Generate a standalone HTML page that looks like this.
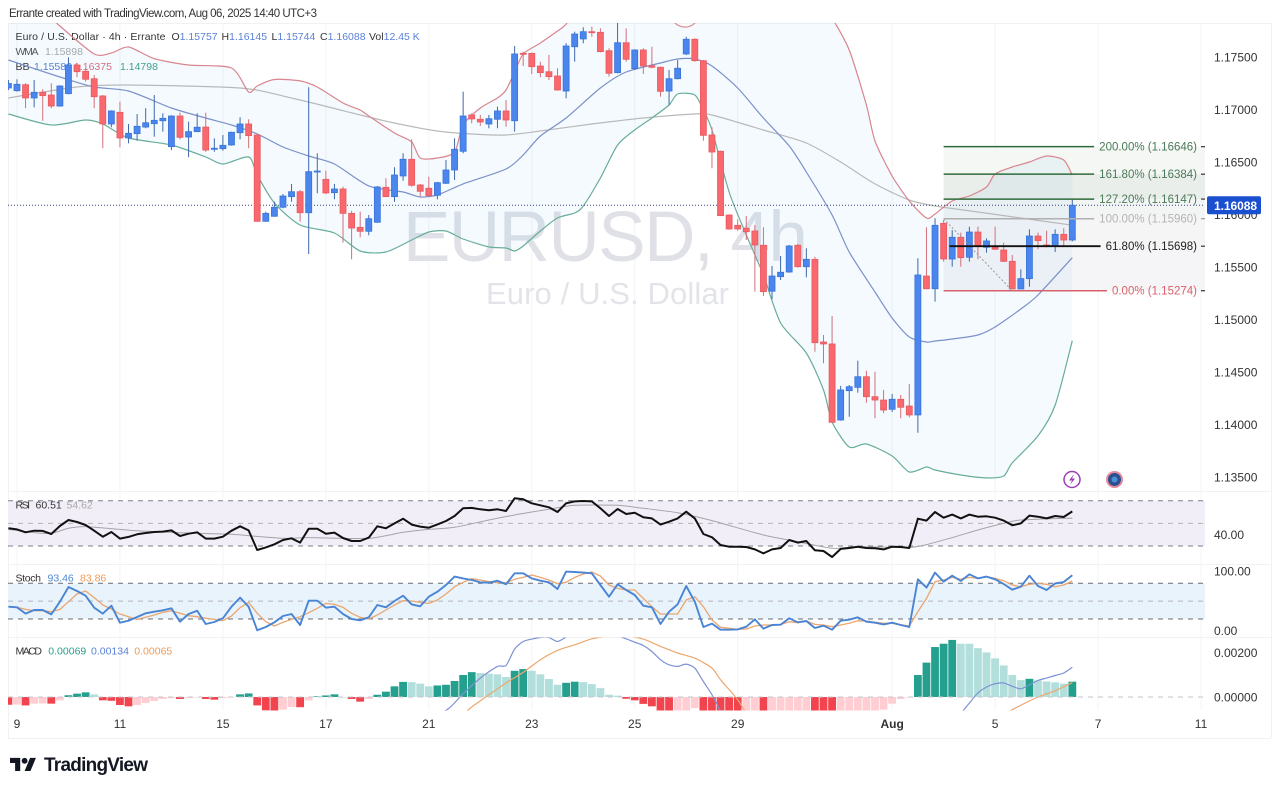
<!DOCTYPE html>
<html lang="en">
<head>
<meta charset="utf-8">
<title>EURUSD 4h chart</title>
<style>
html,body{margin:0;padding:0;background:#fff;width:1280px;height:791px;overflow:hidden}
svg{display:block;font-family:"Liberation Sans",sans-serif}
text{white-space:pre}
</style>
</head>
<body>
<svg id="chart" xmlns="http://www.w3.org/2000/svg" width="1280" height="791" viewBox="0 0 1280 791">
  <defs>
    <clipPath id="clip-main"><rect x="8" y="23" width="1197" height="468"/></clipPath>
    <clipPath id="clip-macd"><rect x="8" y="637.5" width="1197" height="73"/></clipPath>
  </defs>
  <rect width="1280" height="791" fill="#ffffff"/>
  <text x="9" y="17" font-size="11.5" fill="#333" textLength="308">Errante created with TradingView.com, Aug 06, 2025 14:40 UTC+3</text>

  <g stroke="#f0f1f3" stroke-width="1" fill="none">
    <line x1="8" y1="23.5" x2="1271" y2="23.5"/>
    <line x1="8" y1="491.5" x2="1271" y2="491.5"/>
    <line x1="8" y1="564.5" x2="1271" y2="564.5"/>
    <line x1="8" y1="637.5" x2="1271" y2="637.5"/>
    <line x1="8" y1="738.5" x2="1271" y2="738.5"/>
    <line x1="1271.5" y1="23" x2="1271.5" y2="738"/>
    <line x1="8.5" y1="23" x2="8.5" y2="738"/>
  </g>

  <g id="grid"></g>
  <g id="fibShade"></g>

  <g fill="#dfe1e7">
    <text x="403" y="261" font-size="71" textLength="405">EURUSD, 4h</text>
    <text x="486" y="304" font-size="31" textLength="243" fill="#e3e4e9">Euro / U.S. Dollar</text>
  </g>

  <g font-size="10.5">
    <text x="15.5" y="40" fill="#333" textLength="150">Euro / U.S. Dollar · 4h · Errante</text>
    <text x="171.5" y="40" fill="#333">O<tspan fill="#5b82d6">1.15757</tspan></text>
    <text x="221.5" y="40" fill="#333">H<tspan fill="#5b82d6">1.16145</tspan></text>
    <text x="271.5" y="40" fill="#333">L<tspan fill="#5b82d6">1.15744</tspan></text>
    <text x="320" y="40" fill="#333">C<tspan fill="#5b82d6">1.16088</tspan></text>
    <text x="369" y="40" fill="#333">Vol<tspan fill="#5b82d6">12.45 K</tspan></text>
    <text x="15.5" y="55" fill="#555" textLength="23">WMA</text>
    <text x="45" y="55" fill="#aaaaaa">1.15898</text>
    <text x="15.5" y="70" fill="#333">BB</text>
    <text x="34" y="70" fill="#5b82d6">1.15586</text>
    <text x="74" y="70" fill="#d9707a">1.16375</text>
    <text x="120" y="70" fill="#45a08c">1.14798</text>
  </g>

  <g id="mainMarks" clip-path="url(#clip-main)"></g>
  <g id="fibLines"></g>

  <g id="rsiPane"></g>
  <g id="stochPane"></g>
  <g id="macdPane" clip-path="url(#clip-macd)"></g>
  <g id="macdZero"></g>

  <g font-size="10.5">
    <text x="15.5" y="508.5" fill="#333" textLength="14.5">RSI</text>
    <text x="35.5" y="508.5" fill="#333">60.51</text>
    <text x="66.5" y="508.5" fill="#aaa">54.62</text>
  </g>
  <g font-size="10.5">
    <text x="15.5" y="581.5" fill="#333" textLength="25.5">Stoch</text>
    <text x="47.5" y="581.5" fill="#4f8ad8">93.46</text>
    <text x="80" y="581.5" fill="#ee9a55">83.86</text>
  </g>
  <g font-size="10.5">
    <text x="15.5" y="654.5" fill="#333" textLength="26.5">MACD</text>
    <text x="48.3" y="654.5" fill="#2aa08f">0.00069</text>
    <text x="91" y="654.5" fill="#5b82d6">0.00134</text>
    <text x="134.3" y="654.5" fill="#ee9a55">0.00065</text>
  </g>

  <g id="axisRight" font-size="12" fill="#333"></g>
  <g id="axisTime" font-size="12" fill="#333"></g>
  <g id="lastPrice"></g>

  <g>
    <circle cx="1072" cy="479.5" r="8" fill="#fff" stroke="#9c3fb5" stroke-width="1.5"/>
    <polygon points="1074,474 1069,480.5 1072,480.5 1070,485 1075,478.5 1072,478.5" fill="#9c3fb5"/>
  </g>
  <g>
    <circle cx="1114.5" cy="479.5" r="8.5" fill="#e58a9c"/>
    <circle cx="1114.5" cy="479.5" r="6.5" fill="#2b4f8f"/>
    <circle cx="1114.5" cy="479.5" r="3" fill="#4f8fd6"/>
  </g>

  <g>
    <g transform="translate(10,755) scale(0.73)" fill="#131722">
      <path d="M14 22H7V11H0V4h14v18zM28 22h-8l7.5-18h8L28 22z"/>
      <circle cx="20" cy="8" r="4"/>
    </g>
    <text x="44" y="771" font-size="19" font-weight="700" fill="#131722" textLength="104">TradingView</text>
  </g>
</svg>

<script>
const opens=[1.17205,1.17179,1.17236,1.17110,1.17164,1.17138,1.17033,1.17151,1.17424,1.17364,1.17293,1.17129,1.16862,1.16973,1.16729,1.16770,1.16833,1.16865,1.16893,1.16646,1.16938,1.16738,1.16789,1.16833,1.16621,1.16627,1.16662,1.16779,1.16862,1.16757,1.15935,1.15983,1.16069,1.16170,1.16217,1.16017,1.16408,1.16335,1.16208,1.16243,1.16011,1.15878,1.15840,1.15926,1.16259,1.16170,1.16367,1.16526,1.16281,1.16250,1.16183,1.16297,1.16424,1.16602,1.16948,1.16907,1.16862,1.16907,1.16986,1.16893,1.17535,1.17535,1.17414,1.17360,1.17319,1.17176,1.17598,1.17672,1.17741,1.17735,1.17560,1.17351,1.17636,1.17389,1.17567,1.17417,1.17402,1.17176,1.17293,1.17529,1.17669,1.17465,1.16757,1.16602,1.15995,1.15897,1.15869,1.15843,1.15707,1.15269,1.15408,1.15452,1.15707,1.15503,1.15573,1.14786,1.14767,1.14043,1.14322,1.14354,1.14455,1.14265,1.14233,1.14145,1.14240,1.14176,1.14091,1.15414,1.15293,1.15916,1.15576,1.15783,1.15593,1.15833,1.15688,1.15688,1.15662,1.15554,1.15291,1.15389,1.15795,1.15710,1.15700,1.15811,1.15757];
const closes=[1.17248,1.17240,1.17110,1.17164,1.17132,1.17033,1.17224,1.17424,1.17360,1.17288,1.17122,1.16862,1.16986,1.16729,1.16773,1.16840,1.16874,1.16897,1.16916,1.16938,1.16735,1.16789,1.16831,1.16614,1.16631,1.16659,1.16783,1.16862,1.16751,1.15935,1.16011,1.16069,1.16176,1.16217,1.16017,1.16408,1.16414,1.16205,1.16243,1.16011,1.15871,1.15840,1.15960,1.16262,1.16170,1.16376,1.16526,1.16278,1.16221,1.16179,1.16303,1.16424,1.16621,1.16938,1.16910,1.16881,1.16912,1.16986,1.16900,1.17529,1.17526,1.17408,1.17351,1.17313,1.17186,1.17605,1.17719,1.17741,1.17735,1.17551,1.17345,1.17636,1.17478,1.17567,1.17414,1.17402,1.17173,1.17293,1.17393,1.17669,1.17465,1.16754,1.16595,1.15989,1.15862,1.15862,1.15836,1.15710,1.15265,1.15414,1.15450,1.15700,1.15503,1.15573,1.14779,1.14767,1.14021,1.14329,1.14360,1.14455,1.14265,1.14233,1.14138,1.14240,1.14164,1.14091,1.15424,1.15293,1.15897,1.15576,1.15783,1.15589,1.15833,1.15700,1.15748,1.15669,1.15554,1.15291,1.15389,1.15795,1.15751,1.15694,1.15811,1.15757,1.16088];
const highs=[1.17281,1.17288,1.17250,1.17281,1.17193,1.17250,1.17230,1.17497,1.17440,1.17393,1.17329,1.17138,1.16992,1.17074,1.16862,1.16957,1.17012,1.17138,1.16964,1.16945,1.16970,1.16884,1.16964,1.16970,1.16726,1.16757,1.16789,1.16926,1.16907,1.16773,1.16027,1.16122,1.16195,1.16291,1.16233,1.17212,1.16583,1.16417,1.16291,1.16265,1.16036,1.16027,1.15995,1.16272,1.16345,1.16450,1.16583,1.16716,1.16291,1.16360,1.16310,1.16519,1.16726,1.17170,1.16964,1.16948,1.16948,1.17027,1.17091,1.17605,1.17551,1.17541,1.17455,1.17519,1.17393,1.17631,1.17741,1.17783,1.17789,1.17773,1.17583,1.17824,1.17773,1.17573,1.17583,1.17598,1.17408,1.17376,1.17472,1.17693,1.17678,1.17472,1.16831,1.16608,1.16002,1.15954,1.15986,1.15900,1.15878,1.15510,1.15605,1.15710,1.15719,1.15678,1.15598,1.14852,1.15033,1.14367,1.14376,1.14608,1.14512,1.14503,1.14329,1.14291,1.14281,1.14386,1.15583,1.15878,1.15964,1.15948,1.15852,1.15827,1.15884,1.15884,1.15773,1.15884,1.15731,1.15614,1.15478,1.15859,1.15827,1.15846,1.15859,1.15869,1.16145];
const lows=[1.17186,1.17170,1.17012,1.17021,1.16893,1.17012,1.17027,1.17145,1.17307,1.17265,1.17012,1.16631,1.16831,1.16640,1.16678,1.16703,1.16821,1.16741,1.16789,1.16614,1.16716,1.16545,1.16785,1.16598,1.16598,1.16608,1.16655,1.16716,1.16631,1.15932,1.15932,1.15979,1.16059,1.16122,1.15932,1.15624,1.16202,1.16195,1.16145,1.15732,1.15573,1.15783,1.15802,1.15922,1.16167,1.16122,1.16322,1.16265,1.16164,1.16170,1.16145,1.16291,1.16329,1.16583,1.16869,1.16843,1.16821,1.16821,1.16836,1.16789,1.17414,1.17338,1.17307,1.17281,1.17179,1.17107,1.17455,1.17631,1.17693,1.17545,1.17313,1.17345,1.17455,1.17376,1.17338,1.17393,1.17122,1.17043,1.17288,1.17519,1.17455,1.16703,1.16440,1.15986,1.15855,1.15846,1.15757,1.15265,1.15224,1.15193,1.15376,1.15446,1.15493,1.15402,1.14693,1.14583,1.14017,1.14036,1.14074,1.14303,1.14208,1.14059,1.14107,1.14119,1.14059,1.14069,1.13922,1.15288,1.15170,1.15551,1.15503,1.15503,1.15551,1.15573,1.15636,1.15662,1.15548,1.15288,1.15288,1.15312,1.15669,1.15688,1.15643,1.15694,1.15744];

const bbUpperBars=[0,5,6,10,12,14,17,21,26,28,29,31,34,36,39,41,42,45,47,48,50,52,53,55,57,58,59,60,62,64,65,68,74,78,80,82,94,96,98,100,101,103,105,107,108,110,112,114,115,117,119,121,123,124];
const bbUpperValues=[1.18233,1.17872,1.17795,1.17529,1.17538,1.17595,1.17484,1.17424,1.17395,1.17167,1.17224,1.17286,1.17272,1.17214,1.17062,1.16995,1.16938,1.16776,1.16691,1.16538,1.16538,1.16595,1.16853,1.17014,1.17110,1.17186,1.17357,1.17529,1.17633,1.17748,1.17814,1.18138,1.18091,1.17805,1.17824,1.18138,1.18138,1.17872,1.17567,1.17043,1.16700,1.16367,1.16129,1.15967,1.16005,1.16129,1.16176,1.16262,1.16386,1.16452,1.16500,1.16557,1.16519,1.16375];
const bbBasisBars=[0,6,10,14,19,23,26,29,32,35,38,42,46,48,50,53,58,60,62,65,69,72,76,78,80,82,85,88,91,93,96,98,101,103,105,107,108,110,113,115,118,120,124];
const bbBasisValues=[1.17471,1.17310,1.17214,1.17176,1.17014,1.16919,1.16852,1.16767,1.16643,1.16557,1.16481,1.16272,1.16214,1.16167,1.16186,1.16291,1.16433,1.16567,1.16748,1.16919,1.17205,1.17357,1.17443,1.17481,1.17481,1.17414,1.17205,1.16919,1.16653,1.16405,1.15995,1.15643,1.15262,1.15014,1.14833,1.14786,1.14795,1.14814,1.14852,1.14929,1.15100,1.15233,1.15589];
const bbLowerBars=[0,5,9,11,14,19,23,25,28,29,31,34,38,41,44,47,49,51,53,56,58,59,60,62,64,66,67,69,71,73,75,77,78,80,81,82,84,86,88,90,93,95,96,98,100,103,105,107,108,111,114,116,117,120,122,124];
const bbLowerValues=[1.16957,1.16852,1.16900,1.16862,1.16729,1.16662,1.16548,1.16481,1.16548,1.16376,1.16110,1.15900,1.15824,1.15652,1.15643,1.15757,1.15833,1.15843,1.15767,1.15691,1.15681,1.15652,1.15700,1.15843,1.15967,1.16014,1.16081,1.16348,1.16662,1.16805,1.16919,1.17043,1.17148,1.17138,1.16995,1.16805,1.16214,1.15805,1.15424,1.14967,1.14681,1.14329,1.14024,1.13786,1.13814,1.13700,1.13548,1.13595,1.13567,1.13519,1.13491,1.13510,1.13634,1.13891,1.14186,1.14798];
const wmaBars=[0,8,14,27,33,41,45,50,54,58,62,68,74,80,82,88,93,97,101,105,108,113,118,124];
const wmaValues=[1.17110,1.17214,1.17233,1.17205,1.17110,1.16948,1.16871,1.16795,1.16767,1.16757,1.16795,1.16862,1.16919,1.16957,1.16948,1.16805,1.16681,1.16500,1.16291,1.16138,1.16081,1.16024,1.15967,1.15898];

const rsiValues=[45.6,44.7,42.1,43.5,43.3,40.6,47.7,53,51.2,48.5,43.5,38.2,42.4,36.5,38,40.3,41.5,42.4,42.7,43.8,38.8,40.9,42.1,36.5,36.5,38.2,43.5,47.4,43.8,26.5,28.8,31.5,35.3,36.8,33,45.3,45.3,40.9,41.8,37.1,34.4,34.4,37.4,47.4,45.6,50,54.1,48.9,47.1,46.2,49.1,52.1,56.5,63.3,63.6,62.4,61.5,62.4,60.9,72.1,71.2,67.7,65.9,64.2,60,67.7,69.4,69.7,69.4,63.3,56.5,62.7,58.3,59.4,55.3,54.4,48.9,51.5,54.4,60.3,54.4,40.6,37.7,30.9,29.4,29.4,29.1,27,23.5,27,28.2,35.3,33,34.4,26.2,25.6,20.3,27.4,28.2,29.4,28.2,28,27,29.4,29.1,28.2,54.1,52.4,60,55,57.7,54.4,57.7,55.9,56.2,55,52.4,48.3,50,56.8,55.9,54.4,56.5,55.6,60.51];
const rsiMaBars=[0,3,5,7,9,15,22,26,32,35,42,46,49,52,56,59,63,66,71,74,78,82,88,92,96,99,105,107,110,113,116,118,124];
const rsiMaValues=[44.7,41.8,41.2,45.6,47.1,43.5,41.2,40.3,36.8,37.4,36.8,42.1,44.7,46.5,53,57.4,62.4,65.9,65.9,63.3,59.4,52.4,39.7,33.8,28,29.4,28.8,31.2,37.4,44.1,50,53,54.62];
const rsiBands=[70,50,30];

const stochK=[40.7,39.6,29,35.1,35.1,27.8,49.1,73.8,67,59.2,39,29,42.4,13.8,17.2,23.4,29.5,32.3,34.6,37.9,15.5,28.4,34,11.6,15,21.1,40.7,55.9,40.7,1,6.6,14.4,25,28.4,9.9,50.8,50.8,39,40.7,28.4,20,17.8,22.8,43.5,39.6,50.3,59.2,44.6,41.3,57.5,65.9,77.1,91.2,88.3,85.5,81.6,81,84.4,78.3,96.8,96.8,88.3,84.4,81.6,70.4,99.6,99,97.9,96.8,77.1,57.5,78.3,68.7,60.3,42.4,39.6,11.6,32.3,44.6,75.5,49.1,6.6,12.2,2.1,2.1,2.6,7.1,19.4,3.8,9.9,10.5,21.1,14.4,16.6,4.9,8.8,2.1,17.2,18.9,22.8,15.5,13.8,11,13.8,9.9,6.6,86.7,72.7,97.9,82.7,92.8,83.9,95.1,88.3,91.2,86.7,78.8,69.3,74.3,92.8,75.5,68.7,79.9,82.2,93.46];
const stochD=[40.7,39.6,36.2,34,34,32.3,36.2,49.1,62,67,55.9,43.5,36.8,28.4,23.9,19.4,22.8,26.7,31.2,34,29.5,25.6,23.9,21.1,19.4,17.2,25,39,48,29.5,15.5,8.2,14.4,19.4,23.9,30.6,37.9,46.3,44.6,39.6,29.5,22.8,20,26.7,35.1,43.5,50.8,50.3,48,46.3,51.9,62,74.3,81.6,87.8,85.5,82.7,81,81,86.7,90,93.9,90,85.5,79.4,81.6,90,95.6,99,92.3,77.1,71.5,68.7,68.7,54.7,40.7,28.4,28.4,28.4,51.9,57.5,40.7,18.3,6,4.3,2.6,3.2,8.2,9.9,9.9,11,15.5,13.8,16.6,11,9.9,7.1,9.9,12.7,17.2,16.6,14.4,12.7,12.7,10.5,8.2,32.3,54.7,82.7,85.5,90,86.7,90,88.3,91.2,88.3,84.4,77.1,74.3,78.3,79.9,78.3,74.3,77.1,83.86];
const stochBands=[80,50,20];

const macdHist=[-0.00035,-0.00034,-0.00038,-0.0003,-0.00029,-0.0003,-0.00015,0.00008,0.00015,0.00021,0.00012,-0.00015,-0.00017,-0.00036,-0.00042,-0.00036,-0.00027,-0.00018,-0.00009,-0.00005,-0.00009,-0.00005,-0.00001,-0.00009,-0.00012,-0.00005,-0.00001,0.00012,0.00016,-0.00038,-0.0006,-0.00062,-0.00057,-0.00045,-0.00046,-0.00015,0.00003,0.00007,0.00012,0,-0.00009,-0.00021,-0.00009,0.0001,0.00024,0.00048,0.00068,0.00067,0.0006,0.00048,0.00052,0.00055,0.00072,0.00099,0.00112,0.00108,0.00105,0.00102,0.0009,0.00118,0.00126,0.00118,0.00102,0.00081,0.00055,0.00064,0.00069,0.00067,0.00058,0.0004,0.0001,0.00006,-0.00008,-0.00015,-0.00031,-0.00042,-0.00065,-0.0009,-0.00085,-0.0007,-0.0005,-0.00075,-0.00105,-0.00135,-0.00165,-0.0019,-0.0018,-0.0017,-0.00185,-0.0018,-0.0017,-0.0016,-0.0015,-0.0014,-0.0015,-0.0016,-0.0017,-0.00165,-0.00155,-0.0013,-0.001,-0.0007,-0.00057,-0.0003,-0.00009,-0.00001,0.00099,0.00155,0.00225,0.0024,0.00257,0.0024,0.0024,0.0022,0.00201,0.00174,0.00142,0.00099,0.00076,0.00082,0.00075,0.0007,0.00066,0.0006,0.00069];
const macdLineBars=[47,51,53,55,57,58,59,60,61,62,63,64,65,66,70,71,72,73,74,75,76,77,78,79,80,81,82,83,84,95,105,110,111,112,113,114,115,116,117,118,119,120,121,122,123,124];
const macdLineValues=[-0.00117,-0.0006,0.00015,0.00085,0.00138,0.00142,0.00216,0.0025,0.00261,0.00268,0.00268,0.0025,0.0027,0.00288,0.00303,0.00276,0.00262,0.00247,0.00232,0.00205,0.00168,0.00145,0.00138,0.00148,0.0013,0.0007,0.0001,-0.00064,-0.00147,-0.00417,-0.00267,-0.00117,-0.00075,-0.00027,0.00018,0.00045,0.0006,0.00063,0.00048,0.00037,0.00055,0.00075,0.00085,0.00097,0.00108,0.00134];
const macdSignalBars=[53,54,56,58,60,62,64,66,68,70,72,74,76,78,80,82,83,85,86,90,100,110,115,117,120,122,124];
const macdSignalValues=[-0.0008,-0.00045,0.0001,0.00063,0.00111,0.00168,0.0021,0.00235,0.00262,0.00273,0.00273,0.00261,0.00228,0.00198,0.00175,0.0013,0.00078,-0.00012,-0.00072,-0.00267,-0.00342,-0.00207,-0.00102,-0.00057,0,0.00028,0.00065];

const priceTicks=[1.175,1.17,1.165,1.16,1.155,1.15,1.145,1.14,1.135];
const rsiTicks=[40];
const stochTicks=[100,0];
const macdTicks=[0.002,0];
const timeTickBars=[1,13,25,37,49,61,73,85,103,115,127,139];
const timeTickLabels=["9","11","15","17","21","23","25","29","Aug","5","7","11"];

const fibPercents=["200.00","161.80","127.20","100.00","61.80","0.00"];
const fibPrices=[1.16646,1.16384,1.16147,1.15960,1.15698,1.15274];
const fibStartBar=109;
const fibDiagonalEndBar=117;

const NS="http://www.w3.org/2000/svg";
const barX=i=>8.4+8.58*i;
const priceY=p=>57+(1.175-p)*10500;
const rsiY=v=>546-(v-30)*1.1325;
const stochY=v=>619-(v-20)*0.595;
const macdY=v=>697-v*22200;
const add=(parent,tag)=>{const el=document.createElementNS(NS,tag);parent.appendChild(el);return el;};
const seq=a=>a.map((_,i)=>i);
const pts=(bars,vals,yf)=>bars.map((b,i)=>barX(b).toFixed(1)+","+yf(vals[i]).toFixed(1)).join(" ");
function curveSegments(bars,vals,yf){
  const p=bars.map((b,i)=>[barX(b),yf(vals[i])]);
  let d="";
  for(let i=0;i<p.length-1;i++){
    const a=p[Math.max(i-1,0)],b=p[i],c=p[i+1],e=p[Math.min(i+2,p.length-1)];
    const k=1/8;
    d+="C"+(b[0]+(c[0]-a[0])*k).toFixed(1)+" "+(b[1]+(c[1]-a[1])*k).toFixed(1)+" "+(c[0]-(e[0]-b[0])*k).toFixed(1)+" "+(c[1]-(e[1]-b[1])*k).toFixed(1)+" "+c[0].toFixed(1)+" "+c[1].toFixed(1);
  }
  return {start:p[0][0].toFixed(1)+" "+p[0][1].toFixed(1),d};
}
const curvePath=(bars,vals,yf)=>{const c=curveSegments(bars,vals,yf);return "M"+c.start+c.d;};
function styleLine(el,color,width,fill){
  el.setAttribute("fill",fill||"none");
  el.setAttribute("stroke",color);
  el.setAttribute("stroke-width",width);
  el.setAttribute("stroke-linejoin","round");
}

/* gridlines */
const grid=document.getElementById("grid");
timeTickBars.forEach(b=>{
  if(barX(b)>1205)return;
  const l=add(grid,"line");
  
  
  l.setAttribute("x1",barX(b));l.setAttribute("x2",barX(b));l.setAttribute("y1",24);l.setAttribute("y2",710);
  l.setAttribute("stroke","#f3f4f6");l.setAttribute("stroke-width",1);
});

/* fib shading */
const fibShade=document.getElementById("fibShade");
const fibFills=["#f4f7f4","#e9eeea","#f3f5f4","#f5f5f6","#f5f5f7"];
for(let i=0;i<fibPrices.length-1;i++){
  const r=add(fibShade,"rect");
  
  
  r.setAttribute("x",barX(fibStartBar));
  r.setAttribute("width",1205-barX(fibStartBar));
  r.setAttribute("y",priceY(fibPrices[i]));
  r.setAttribute("height",priceY(fibPrices[i+1])-priceY(fibPrices[i]));
  r.setAttribute("fill",fibFills[i]);
}

/* main pane */
const main=document.getElementById("mainMarks");
const bbFill=add(main,"path");


const fillTop=curveSegments(bbUpperBars,bbUpperValues,priceY);
const fillBottom=curveSegments(bbLowerBars.slice().reverse(),bbLowerValues.slice().reverse(),priceY);
bbFill.setAttribute("d","M"+fillTop.start+fillTop.d+"L"+fillBottom.start+fillBottom.d+"Z");
bbFill.setAttribute("fill","#2196f3");
bbFill.setAttribute("fill-opacity","0.05");

const wmaLine=add(main,"path");


wmaLine.setAttribute("d",curvePath(wmaBars,wmaValues,priceY));
styleLine(wmaLine,"#b9b9b9",1.2);

const upperLine=add(main,"path");


upperLine.setAttribute("d",curvePath(bbUpperBars,bbUpperValues,priceY));
styleLine(upperLine,"#d9858e",1.2);

const basisLine=add(main,"path");


basisLine.setAttribute("d",curvePath(bbBasisBars,bbBasisValues,priceY));
styleLine(basisLine,"#7b90c8",1.2);

const lowerLine=add(main,"path");


lowerLine.setAttribute("d",curvePath(bbLowerBars,bbLowerValues,priceY));
styleLine(lowerLine,"#68ad98",1.2);

const lastLine=add(main,"line");


lastLine.setAttribute("x1",8);lastLine.setAttribute("x2",1205);
lastLine.setAttribute("y1",priceY(closes[closes.length-1]));lastLine.setAttribute("y2",priceY(closes[closes.length-1]));
lastLine.setAttribute("stroke","#34447a");lastLine.setAttribute("stroke-width",1);lastLine.setAttribute("stroke-dasharray","1 2");

opens.forEach((o,i)=>{
  const c=closes[i],up=c>=o,x=barX(i);
  const wick=add(main,"line");
  
  
  wick.setAttribute("x1",x);wick.setAttribute("x2",x);
  wick.setAttribute("y1",priceY(highs[i]));wick.setAttribute("y2",priceY(lows[i]));
  wick.setAttribute("stroke",up?"#3f68ab":"#d2707a");wick.setAttribute("stroke-width",1);
  const body=add(main,"rect");
  
  
  const top=priceY(Math.max(o,c)),bot=priceY(Math.min(o,c));
  body.setAttribute("x",x-3);body.setAttribute("width",6);
  body.setAttribute("y",top);body.setAttribute("height",Math.max(bot-top,1));
  body.setAttribute("fill",up?"#4a86ee":"#f8686c");
  body.setAttribute("stroke",up?"#3a74d8":"#e85a62");body.setAttribute("stroke-width",0.8);
});

/* fib lines and labels */
const fibLines=document.getElementById("fibLines");
const fibColors=["#2e6b3a","#2e6b3a","#2e6b3a","#b0b0b0","#111111","#d9606a"];
const fibTextColors=["#4b7a58","#4b7a58","#4b7a58","#b4b4b4","#222222","#d9606a"];
const fibDiag=add(fibLines,"line");


fibDiag.setAttribute("x1",barX(fibStartBar));fibDiag.setAttribute("y1",priceY(fibPrices[3]));
fibDiag.setAttribute("x2",barX(fibDiagonalEndBar));fibDiag.setAttribute("y2",priceY(fibPrices[5]));
fibDiag.setAttribute("stroke","#9a9a9a");fibDiag.setAttribute("stroke-width",1);fibDiag.setAttribute("stroke-dasharray","2 2");
fibPrices.forEach((p,i)=>{
  const y=priceY(p);
  const t=add(fibLines,"text");
  
  
  t.setAttribute("x",1197);t.setAttribute("y",y+4);
  t.setAttribute("text-anchor","end");t.setAttribute("font-size",11.5);
  t.setAttribute("fill",fibTextColors[i]);
  t.textContent=fibPercents[i]+"% ("+p.toFixed(5)+")";
  const w=t.getComputedTextLength();
  const l=add(fibLines,"line");
  
  
  l.setAttribute("x1",barX(fibStartBar)+(i===4?6:0));l.setAttribute("x2",1197-w-5);
  l.setAttribute("y1",y);l.setAttribute("y2",y);
  l.setAttribute("stroke",fibColors[i]);l.setAttribute("stroke-width",i===4?1.8:1.5);
  const d=add(fibLines,"line");
  
  
  d.setAttribute("x1",1201);d.setAttribute("x2",1205);d.setAttribute("y1",y);d.setAttribute("y2",y);
  d.setAttribute("stroke",i===3?"#999":"#333");d.setAttribute("stroke-width",1.2);
});

/* RSI pane */
const rsiPane=document.getElementById("rsiPane");
const rsiBg=add(rsiPane,"rect");


rsiBg.setAttribute("x",8);rsiBg.setAttribute("width",1197);
rsiBg.setAttribute("y",rsiY(rsiBands[0]));rsiBg.setAttribute("height",rsiY(rsiBands[2])-rsiY(rsiBands[0]));
rsiBg.setAttribute("fill","#f1eef8");
rsiBands.forEach((v,i)=>{
  const l=add(rsiPane,"line");
  
  
  l.setAttribute("x1",8);l.setAttribute("x2",1205);l.setAttribute("y1",rsiY(v));l.setAttribute("y2",rsiY(v));
  l.setAttribute("stroke",i===1?"#b4b4ba":"#7d7f88");l.setAttribute("stroke-width",1);l.setAttribute("stroke-dasharray","5 5");
});
const rsiMa=add(rsiPane,"path");


rsiMa.setAttribute("d",curvePath(rsiMaBars,rsiMaValues,rsiY));
styleLine(rsiMa,"#a3a3a8",1);
const rsiLine=add(rsiPane,"polyline");


rsiLine.setAttribute("points",pts(seq(rsiValues),rsiValues,rsiY));
styleLine(rsiLine,"#111",2);

/* Stoch pane */
const stochPane=document.getElementById("stochPane");
const stBg=add(stochPane,"rect");


stBg.setAttribute("x",8);stBg.setAttribute("width",1197);
stBg.setAttribute("y",stochY(stochBands[0]));stBg.setAttribute("height",stochY(stochBands[2])-stochY(stochBands[0]));
stBg.setAttribute("fill","#e8f3fc");
stochBands.forEach((v,i)=>{
  const l=add(stochPane,"line");
  
  
  l.setAttribute("x1",8);l.setAttribute("x2",1205);l.setAttribute("y1",stochY(v));l.setAttribute("y2",stochY(v));
  l.setAttribute("stroke",i===1?"#b4b4ba":"#6a6c75");l.setAttribute("stroke-width",1);l.setAttribute("stroke-dasharray","5 5");
});
const dLine=add(stochPane,"polyline");


dLine.setAttribute("points",pts(seq(stochD),stochD,stochY));
styleLine(dLine,"#eaa66e",1.3);
const kLine=add(stochPane,"polyline");


kLine.setAttribute("points",pts(seq(stochK),stochK,stochY));
styleLine(kLine,"#4a84d4",1.9);

/* MACD pane */
const macdPane=document.getElementById("macdPane");
const zero=add(document.getElementById("macdZero"),"line");


zero.setAttribute("x1",8);zero.setAttribute("x2",1205);zero.setAttribute("y1",macdY(0));zero.setAttribute("y2",macdY(0));
zero.setAttribute("stroke","#c4c6cc");zero.setAttribute("stroke-width",1);zero.setAttribute("stroke-dasharray","5 5");
macdHist.forEach((v,i)=>{
  const prev=i?macdHist[i-1]:v;
  const rising=prev<v;
  const color=v>=0?(rising?"#26a08e":"#b2dfdb"):(rising?"#ffcdd2":"#f2444e");
  const r=add(macdPane,"rect");
  
  
  const y0=macdY(0),y1=macdY(v);
  r.setAttribute("x",barX(i)-3.9);r.setAttribute("width",7.8);
  r.setAttribute("y",Math.min(y0,y1));r.setAttribute("height",Math.max(Math.abs(y1-y0),0.6));
  r.setAttribute("fill",color);
});
const sigLine=add(macdPane,"path");


sigLine.setAttribute("d",curvePath(macdSignalBars,macdSignalValues,macdY));
styleLine(sigLine,"#eca86e",1.2);
const mLine=add(macdPane,"path");


mLine.setAttribute("d",curvePath(macdLineBars,macdLineValues,macdY));
styleLine(mLine,"#7b92d4",1.2);

/* axes */
const axisRight=document.getElementById("axisRight");
const tickText=(y,label)=>{
  const t=add(axisRight,"text");
  
  
  t.setAttribute("x",1214);t.setAttribute("y",y+4.3);
  t.textContent=label;
};
priceTicks.forEach(p=>tickText(priceY(p),p.toFixed(5)));
rsiTicks.forEach(v=>tickText(rsiY(v),v.toFixed(2)));
stochTicks.forEach(v=>tickText(stochY(v),v.toFixed(2)));
macdTicks.forEach(v=>tickText(macdY(v),v.toFixed(5)));

const axisTime=document.getElementById("axisTime");
timeTickBars.forEach((b,i)=>{
  const t=add(axisTime,"text");
  
  
  t.setAttribute("x",barX(b));t.setAttribute("y",728);
  t.setAttribute("text-anchor","middle");
  if(timeTickLabels[i]==="Aug")t.setAttribute("font-weight","700");
  t.textContent=timeTickLabels[i];
});

/* last price box */
const lp=document.getElementById("lastPrice");
const lastClose=closes[closes.length-1];
const box=add(lp,"rect");


box.setAttribute("x",1207);box.setAttribute("y",priceY(lastClose)-9);
box.setAttribute("width",54);box.setAttribute("height",18);box.setAttribute("rx",2);
box.setAttribute("fill","#1a4fcf");
const lpText=add(lp,"text");


lpText.setAttribute("x",1214);lpText.setAttribute("y",priceY(lastClose)+4.5);
lpText.setAttribute("font-size",12);lpText.setAttribute("font-weight","700");lpText.setAttribute("fill","#fff");
lpText.setAttribute("textLength",43);
lpText.textContent=lastClose.toFixed(5);
</script>
</body>
</html>
